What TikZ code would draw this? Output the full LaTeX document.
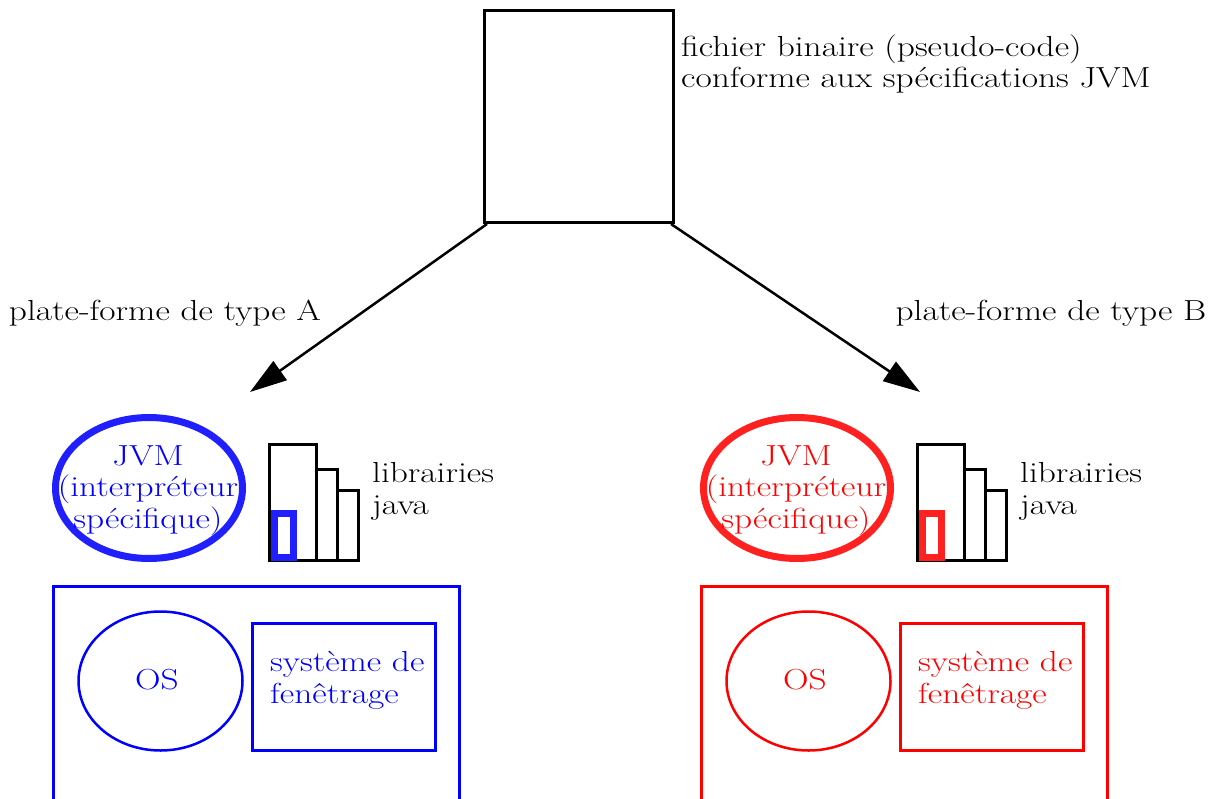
\documentclass[tikz,border=0pt]{standalone}
\usepackage{fontspec}
\setmainfont{Latin Modern Roman}[FakeStretch=1.22]
\usetikzlibrary{arrows.meta,shapes.geometric}
\definecolor{jvmblue}{RGB}{32,32,255}
\definecolor{jvmred}{RGB}{255,32,32}
\tikzset{
  txt/.style={font=\fontsize{29}{31.5}\selectfont, inner sep=0pt, align=left},
  thinbox/.style={draw, line width=3pt, rectangle, inner sep=0pt},
  thickbox/.style={draw, line width=7pt, rectangle, inner sep=0pt},
  arr/.style={line width=2.5pt, -{Triangle[length=37pt,width=23pt]}},
}
\newcommand{\platformside}[4]{% #1 xshift, #2 colour, #3 strong colour, #4 suffix
\begin{scope}[xshift=#1]
  \node[ellipse, draw=#3, line width=7pt, minimum width=187pt, minimum height=141pt, inner sep=0pt] (jvm#4) at (149,488) {};
  \node[txt, text=#2, align=center, anchor=base] (jvmtxt#4) at (148,528) {JVM\\(interpréteur\\spécifique)};
  \node[thinbox, minimum width=46.5pt, minimum height=115.5pt] (libbig#4) at (292.75,502.25) {};
  \node[thinbox, minimum width=21pt, minimum height=91pt] (libmid#4) at (326.5,514.5) {};
  \node[thinbox, minimum width=21pt, minimum height=70pt] (libsmall#4) at (347.5,525) {};
  \node[thickbox, draw=#3, minimum width=19pt, minimum height=44pt] (libsel#4) at (284,535.5) {};
  \node[txt, anchor=base west] (libtxt#4) at (372,514) {librairies\\java};
  \node[thinbox, draw=#2, line width=2.5pt, minimum width=406pt, minimum height=230pt] (plat#4) at (256.5,701.5) {};
  \node[ellipse, draw=#2, line width=2.5pt, minimum width=164pt, minimum height=139pt, inner sep=0pt] (os#4) at (160.5,681) {};
  \node[txt, text=#2] (ostxt#4) at (157,680) {OS};
  \node[thinbox, draw=#2, line width=2.5pt, minimum width=183pt, minimum height=127pt] (win#4) at (344,687) {};
  \node[txt, text=#2, anchor=base west] (wintxt#4) at (270,703) {système de\\fenêtrage};
\end{scope}}
\begin{document}
\begin{tikzpicture}[x=1pt, y=-1pt]
  \useasboundingbox (0,0) rectangle (1212,799);
  \node[thinbox, minimum width=189pt, minimum height=212pt] (file) at (579,116.5) {};
  \node[txt, anchor=base west] (filetxt) at (681,88) {fichier binaire (pseudo-code)\\conforme aux spécifications JVM};
  \coordinate (tipA) at (250,392);
  \coordinate (tipB) at (920,392);
  \draw[arr] ([xshift=4pt]file.south west) -- (tipA);
  \draw[arr] ([xshift=-4pt]file.south east) -- (tipB);
  \node[txt] (typeA) at (165,313) {plate-forme de type A};
  \node[txt] (typeB) at (1051,313) {plate-forme de type B};
  \platformside{0pt}{blue}{jvmblue}{A}
  \platformside{648pt}{red}{jvmred}{B}
\end{tikzpicture}
\end{document}
